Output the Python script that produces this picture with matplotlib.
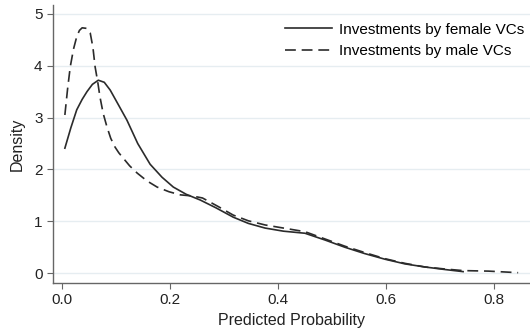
import matplotlib
matplotlib.use("Agg")
import matplotlib.pyplot as plt

plt.rcParams['font.family'] = ['Liberation Sans', 'DejaVu Sans']

female_x = [0.005, 0.016, 0.027, 0.037, 0.046, 0.056, 0.067, 0.078, 0.089, 0.104, 0.12, 0.14, 0.163, 0.185, 0.206, 0.23, 0.256, 0.285, 0.317, 0.345, 0.376, 0.41, 0.45, 0.487, 0.524, 0.56, 0.598, 0.635, 0.672, 0.71, 0.743]
female_y = [2.41, 2.80, 3.15, 3.35, 3.50, 3.64, 3.72, 3.68, 3.53, 3.25, 2.95, 2.50, 2.10, 1.85, 1.66, 1.52, 1.41, 1.26, 1.08, 0.96, 0.87, 0.81, 0.77, 0.64, 0.50, 0.38, 0.27, 0.18, 0.12, 0.07, 0.03]

male_x = [0.005, 0.010, 0.015, 0.021, 0.027, 0.032, 0.037, 0.045, 0.052, 0.057, 0.061, 0.066, 0.070, 0.076, 0.083, 0.090, 0.098, 0.105, 0.113, 0.125, 0.139, 0.157, 0.176, 0.198, 0.219, 0.24, 0.26, 0.29, 0.317, 0.345, 0.376, 0.41, 0.45, 0.487, 0.524, 0.56, 0.598, 0.635, 0.672, 0.71, 0.743, 0.79, 0.845]
male_y = [3.05, 3.55, 3.98, 4.32, 4.56, 4.68, 4.73, 4.72, 4.63, 4.35, 3.98, 3.68, 3.40, 3.08, 2.82, 2.60, 2.43, 2.32, 2.22, 2.07, 1.93, 1.78, 1.66, 1.57, 1.51, 1.49, 1.45, 1.28, 1.12, 1.01, 0.93, 0.87, 0.80, 0.66, 0.52, 0.40, 0.28, 0.19, 0.12, 0.08, 0.05, 0.04, 0.01]

x_ticks = [0.0, 0.2, 0.4, 0.6, 0.8]
x_tick_labels = ["0.0", "0.2", "0.4", "0.6", "0.8"]
y_ticks = [0, 1, 2, 3, 4, 5]

fig = plt.figure(figsize=(5.3, 3.33), dpi=100)
ax = fig.add_axes([0.1, 0.15, 0.9, 0.835])

line_color = '#2b2b2b'
ax.plot(female_x, female_y, color=line_color, lw=1.2, ls='-', label='Investments by female VCs')
ax.plot(male_x, male_y, color=line_color, lw=1.2, ls=(0, (6.5, 3.5)), label='Investments by male VCs')

ax.set_xlim(-0.017, 0.867)
ax.set_ylim(-0.19, 5.17)
ax.set_xticks(x_ticks)
ax.set_xticklabels(x_tick_labels)
ax.set_yticks(y_ticks)
ax.grid(axis='y', color='#e6edf1', lw=1.0)
ax.set_axisbelow(True)

for s in ['top', 'right']:
    ax.spines[s].set_visible(False)
for s in ['left', 'bottom']:
    ax.spines[s].set_color('#666666')
    ax.spines[s].set_linewidth(1.0)
ax.tick_params(axis='both', colors='#666666', labelcolor='#222222', labelsize=11, length=4, direction='out')

ax.set_xlabel('Predicted Probability', fontsize=11.5, color='#222222', labelpad=4)
ax.set_ylabel('Density', fontsize=11.5, color='#222222', labelpad=7)

leg = ax.legend(loc='upper left', bbox_to_anchor=(0.526, 0.95), bbox_transform=fig.transFigure,
                frameon=False, fontsize=11, handlelength=3.1, handletextpad=0.45,
                labelspacing=0.5, borderaxespad=0)

fig.savefig('out.png', dpi=100)
